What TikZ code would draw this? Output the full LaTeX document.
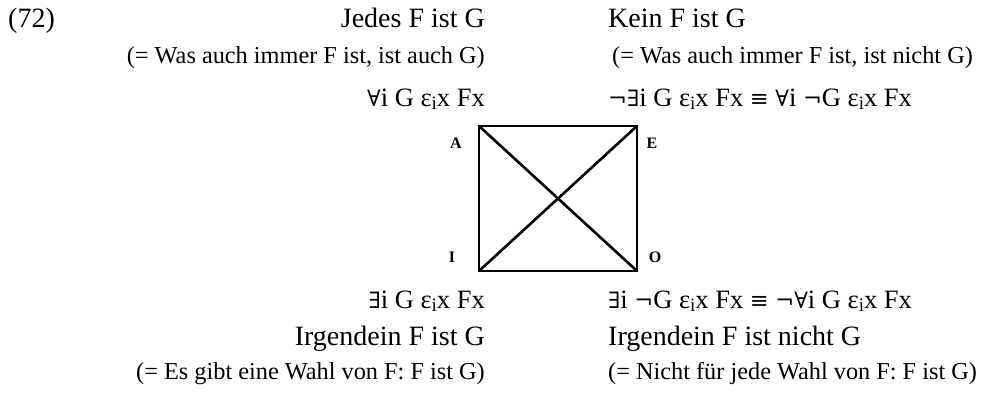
\documentclass[tikz,border=0pt]{standalone}
\usepackage{fontspec}
\setmainfont{Liberation Serif}
\newfontfamily\symfont{DejaVu Serif}[Scale=0.85]
\newcommand\myall{{\symfont ∀}}
\newcommand\myex{{\symfont ∃}}
\newcommand\myneg{{\symfont ¬}}
\newcommand\myeq{{\symfont ≡}}
\newcommand\epsi{ε\raisebox{-0.32ex}{\fontsize{19}{19}\selectfont i}}
\tikzset{
  big/.style={inner sep=0pt, font=\fontsize{28}{33}\selectfont},
  form/.style={inner sep=0pt, font=\fontsize{26.5}{31}\selectfont},
  small/.style={inner sep=0pt, font=\fontsize{24.3}{29}\selectfont},
  corner/.style={inner sep=0pt, font=\fontsize{16}{19}\selectfont\bfseries},
  sq/.style={line width=2.6pt, line cap=round, line join=round}
}
\begin{document}
\begin{tikzpicture}[x=1pt,y=-1pt]
\useasboundingbox (0,0) rectangle (983,397);
% header
\node[big, anchor=base west] (num) at (8,27) {(72)};
\node[big, anchor=base east] (aT) at (485,27) {Jedes F ist G};
\node[big, anchor=base west] (eT) at (608,27) {Kein F ist G};
\node[small, anchor=base east] (aS) at (485,63) {(= Was auch immer F ist, ist auch G)};
\node[small, anchor=base west] (eS) at (612,63) {(= Was auch immer F ist, ist nicht G)};
\node[form, anchor=base east] (aF) at (485,106) {\myall i G \epsi x Fx};
\node[form, anchor=base west] (eF) at (608,106) {\myneg\myex i G \epsi x Fx \myeq\ \myall i \myneg G \epsi x Fx};
% square
\coordinate (A) at (479,126);
\coordinate (E) at (637,126);
\coordinate (O) at (637,271);
\coordinate (I) at (479,271);
\draw[sq] (A) -- (E) -- (O) -- (I) -- cycle;
\draw[sq] (A) -- (O);
\draw[sq] (E) -- (I);
\node[corner] (la) at (456,143) {A};
\node[corner] (le) at (652,143) {E};
\node[corner] (li) at (452,257) {I};
\node[corner] (lo) at (655,257) {O};
% bottom
\node[form, anchor=base east] (iF) at (485,308) {\myex i G \epsi x Fx};
\node[form, anchor=base west] (oF) at (608,308) {\myex i \myneg G \epsi x Fx \myeq\ \myneg\myall i G \epsi x Fx};
\node[big, anchor=base east] (iT) at (485,345) {Irgendein F ist G};
\node[big, anchor=base west] (oT) at (608,345) {Irgendein F ist nicht G};
\node[small, anchor=base east] (iS) at (485,379) {(= Es gibt eine Wahl von F: F ist G)};
\node[small, anchor=base west] (oS) at (608,379) {(= Nicht für jede Wahl von F: F ist G)};
\end{tikzpicture}
\end{document}
